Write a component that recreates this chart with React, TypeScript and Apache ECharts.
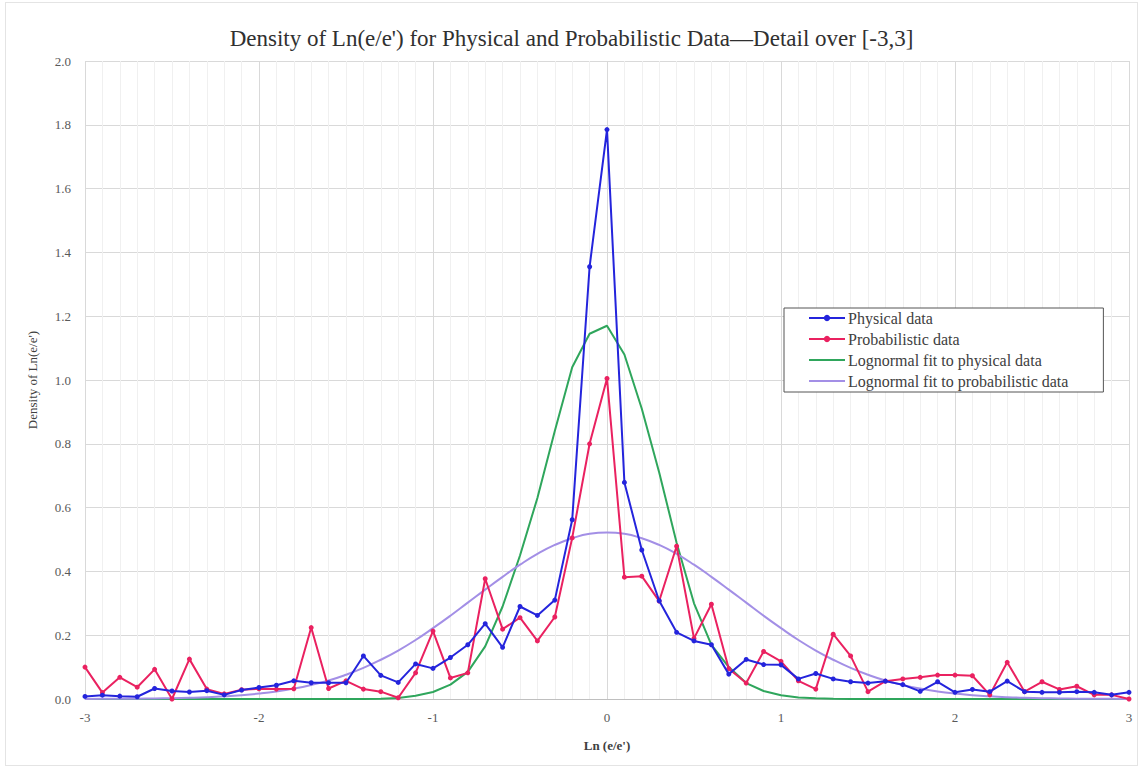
import React, { useEffect, useRef } from "react";
import * as echarts from "echarts";

// x positions (Ln(e/e')), step 0.1 over [-3, 3]
const xValues = [
  -3.0, -2.9, -2.8, -2.7, -2.6, -2.5, -2.4, -2.3, -2.2, -2.1,
  -2.0, -1.9, -1.8, -1.7, -1.6, -1.5, -1.4, -1.3, -1.2, -1.1,
  -1.0, -0.9, -0.8, -0.7, -0.6, -0.5, -0.4, -0.3, -0.2, -0.1,
  0.0, 0.1, 0.2, 0.3, 0.4, 0.5, 0.6, 0.7, 0.8, 0.9,
  1.0, 1.1, 1.2, 1.3, 1.4, 1.5, 1.6, 1.7, 1.8, 1.9,
  2.0, 2.1, 2.2, 2.3, 2.4, 2.5, 2.6, 2.7, 2.8, 2.9,
  3.0,
];

const physicalData = [
  0.008, 0.012, 0.009, 0.007, 0.033, 0.025, 0.022, 0.026, 0.013, 0.028,
  0.036, 0.043, 0.057, 0.051, 0.051, 0.051, 0.135, 0.074, 0.052, 0.11,
  0.096, 0.13, 0.17, 0.236, 0.162, 0.29, 0.262, 0.31, 0.562, 1.355,
  1.785, 0.679, 0.467, 0.308, 0.209, 0.182, 0.17, 0.078, 0.124, 0.108,
  0.107, 0.063, 0.08, 0.063, 0.054, 0.05, 0.056, 0.045, 0.024, 0.054,
  0.021, 0.03, 0.023, 0.056, 0.023, 0.021, 0.021, 0.023, 0.021, 0.013,
  0.021,
];

const probabilisticData = [
  0.1, 0.02, 0.068, 0.037, 0.093, 0.0, 0.125, 0.031, 0.016, 0.029,
  0.032, 0.031, 0.032, 0.224, 0.033, 0.057, 0.031, 0.023, 0.004, 0.082,
  0.213, 0.066, 0.082, 0.377, 0.219, 0.255, 0.182, 0.257, 0.505, 0.8,
  1.005, 0.382, 0.385, 0.307, 0.479, 0.19, 0.297, 0.095, 0.05, 0.149,
  0.118, 0.057, 0.031, 0.203, 0.135, 0.023, 0.056, 0.063, 0.068, 0.075,
  0.075, 0.073, 0.013, 0.115, 0.023, 0.054, 0.03, 0.04, 0.013, 0.013,
  0.0,
];

const fitPhysical = [
  0, 0, 0, 0, 0, 0, 0, 0, 0, 0,
  0, 0, 0, 0, 0, 0, 0.0003, 0.001, 0.003, 0.01,
  0.022, 0.045, 0.085, 0.165, 0.29, 0.45, 0.63, 0.84, 1.04, 1.145,
  1.17, 1.08, 0.91, 0.71, 0.49, 0.3, 0.17, 0.1, 0.05, 0.025,
  0.012, 0.005, 0.002, 0.001, 0.0003, 0, 0, 0, 0, 0,
  0, 0, 0, 0, 0, 0, 0, 0, 0, 0,
  0,
];

const fitProbabilistic = [
  0.0002, 0.0004, 0.0006, 0.001, 0.0016, 0.0025, 0.0038, 0.0056, 0.0083, 0.012,
  0.017, 0.0237, 0.0326, 0.044, 0.058, 0.076, 0.0974, 0.123, 0.152, 0.185,
  0.222, 0.261, 0.302, 0.343, 0.383, 0.421, 0.455, 0.483, 0.504, 0.518,
  0.522, 0.518, 0.504, 0.483, 0.455, 0.421, 0.383, 0.343, 0.302, 0.261,
  0.222, 0.185, 0.152, 0.123, 0.0974, 0.076, 0.058, 0.044, 0.0326, 0.0237,
  0.017, 0.012, 0.0083, 0.0056, 0.0038, 0.0025, 0.0016, 0.001, 0.0006, 0.0004,
  0.0002,
];

const seriesNames = [
  "Physical data",
  "Probabilistic data",
  "Lognormal fit to physical data",
  "Lognormal fit to probabilistic data",
];

const FONT = "Liberation Serif";

const pairs = (ys: number[]) => xValues.map((x, i) => [x, ys[i]]);

export default function App() {
  const ref = useRef<HTMLDivElement>(null);

  useEffect(() => {
    if (!ref.current) return;
    const chart = echarts.init(ref.current, undefined, { renderer: "svg" });

    chart.setOption({
      animation: false,
      backgroundColor: "#ffffff",
      title: {
        text: "Density of Ln(e/e') for Physical and Probabilistic Data\u2014Detail over [-3,3]",
        left: "center",
        top: 19,
        textStyle: {
          fontFamily: FONT,
          fontSize: 23,
          fontWeight: "normal",
          color: "#303030",
        },
      },
      legend: {
        orient: "vertical",
        left: 778,
        top: 305,
        backgroundColor: "#ffffff",
        borderColor: "#555555",
        borderWidth: 1,
        padding: [2, 35, 3, 24],
        itemWidth: 36,
        itemHeight: 8,
        itemGap: 5,
        data: [
          { name: seriesNames[0] },
          { name: seriesNames[1] },
          { name: seriesNames[2], itemStyle: { opacity: 0 } },
          { name: seriesNames[3], itemStyle: { opacity: 0 } },
        ],
        textStyle: { fontFamily: FONT, fontSize: 16, color: "#404040", padding: [0, 0, 0, -2] },
      },
      grid: { left: 79, right: 8, top: 58, bottom: 66, containLabel: false },
      xAxis: {
        type: "value",
        min: -3,
        max: 3,
        interval: 1,
        name: "Ln (e/e')",
        nameLocation: "middle",
        nameGap: 40,
        nameTextStyle: { fontFamily: FONT, fontSize: 13, fontWeight: "bold", color: "#404040" },
        axisLine: { show: true, lineStyle: { color: "#bfbfbf" } },
        axisTick: { show: false },
        axisLabel: {
          fontFamily: FONT,
          fontSize: 13,
          color: "#595959",
          margin: 12,
          formatter: (v: number) => String(v),
        },
        splitLine: { show: true, lineStyle: { color: "#d9d9d9" } },
        minorTick: { show: false, splitNumber: 10 },
        minorSplitLine: { show: true, lineStyle: { color: "#f0f0f0" } },
      },
      yAxis: {
        type: "value",
        min: 0,
        max: 2,
        interval: 0.2,
        name: "Density of Ln(e/e')",
        nameLocation: "middle",
        nameGap: 46,
        nameRotate: 90,
        nameTextStyle: { fontFamily: FONT, fontSize: 13, color: "#404040" },
        axisLine: { show: false },
        axisTick: { show: false },
        axisLabel: {
          fontFamily: FONT,
          fontSize: 13,
          color: "#595959",
          margin: 14,
          formatter: (v: number) => v.toFixed(1),
        },
        splitLine: { show: true, lineStyle: { color: "#d9d9d9" } },
      },
      series: [
        {
          name: seriesNames[2],
          type: "line",
          data: pairs(fitPhysical),
          showSymbol: false,
          symbol: "none",
          lineStyle: { color: "#2fa65c", width: 2 },
          itemStyle: { color: "#2fa65c" },
          z: 2,
        },
        {
          name: seriesNames[3],
          type: "line",
          data: pairs(fitProbabilistic),
          smooth: true,
          showSymbol: false,
          symbol: "none",
          lineStyle: { color: "#a38fe6", width: 2 },
          itemStyle: { color: "#a38fe6" },
          z: 2,
        },
        {
          name: seriesNames[1],
          type: "line",
          data: pairs(probabilisticData),
          symbol: "circle",
          symbolSize: 5,
          lineStyle: { color: "#ea2160", width: 2 },
          itemStyle: { color: "#ea2160" },
          z: 3,
        },
        {
          name: seriesNames[0],
          type: "line",
          data: pairs(physicalData),
          symbol: "circle",
          symbolSize: 5,
          lineStyle: { color: "#2424dc", width: 2 },
          itemStyle: { color: "#2424dc" },
          z: 4,
        },
      ],
    });

    return () => chart.dispose();
  }, []);

  return (
    <div
      style={{
        position: "fixed",
        left: 0,
        top: 0,
        width: 1140,
        height: 768,
        background: "#fff",
      }}
    >
      <div
        ref={ref}
        style={{
          position: "absolute",
          left: 5,
          top: 2,
          width: 1133,
          height: 764,
          border: "1px solid #e4e4e4",
          boxSizing: "border-box",
        }}
      />
    </div>
  );
}
